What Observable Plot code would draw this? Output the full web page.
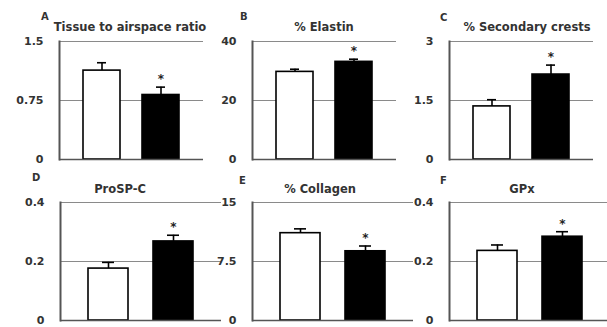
<!DOCTYPE html>
<html>
<head>
<meta charset="utf-8">
<script src="https://cdn.jsdelivr.net/npm/d3@7"></script>
<script src="https://cdn.jsdelivr.net/npm/@observablehq/plot@0.6"></script>
<style>
  html, body { margin: 0; padding: 0; background: #fff; }
  #wrap { position: relative; width: 607px; height: 327px; overflow: hidden; background: #fff; font-family: "DejaVu Sans", sans-serif; }
  .panel { position: absolute; }
  .lbl { position: absolute; font-weight: bold; color: #333; white-space: nowrap; line-height: 1; }
  .letter { font-size: 10px; }
  .title { font-size: 11.5px; transform: translateX(-50%); }
</style>
</head>
<body>
<div id="wrap"></div>
<script>
// ---- data ----
const groups = ["Control", "Treated"];
const panelLetters = ["A", "B", "C", "D", "E", "F"];
const panelTitles = ["Tissue to airspace ratio", "% Elastin", "% Secondary crests", "ProSP-C", "% Collagen", "GPx"];
const means = [
  [1.13, 0.82],
  [29.7, 33.1],
  [1.35, 2.16],
  [0.176, 0.268],
  [11.1, 8.8],
  [0.236, 0.284]
];
const errors = [
  [0.10, 0.10],
  [0.9, 0.9],
  [0.17, 0.24],
  [0.021, 0.021],
  [0.55, 0.67],
  [0.02, 0.017]
];
const significant = [
  [false, true],
  [false, true],
  [false, true],
  [false, true],
  [false, true],
  [false, true]
];
const yMax = [1.5, 40, 3, 0.4, 15, 0.4];
const yTicks = [
  [0, 0.75, 1.5],
  [0, 20, 40],
  [0, 1.5, 3],
  [0, 0.2, 0.4],
  [0, 7.5, 15],
  [0, 0.2, 0.4]
];

// ---- layout ----
const layout = [
  {left: 0,   top: 0,   ml: 59, W: 144, letter: [41, 12], title: [130, 22]},
  {left: 200, top: 0,   ml: 52, W: 144, letter: [240, 12], title: [324, 22]},
  {left: 400, top: 0,   ml: 49, W: 144, letter: [440, 13], title: [527, 22]},
  {left: 0,   top: 160, ml: 60, W: 161, letter: [32, 173], title: [120, 184]},
  {left: 200, top: 160, ml: 52, W: 161, letter: [239, 176], title: [320, 184]},
  {left: 400, top: 160, ml: 49, W: 161, letter: [440, 176], title: [522, 184]}
];

const wrap = document.getElementById("wrap");

layout.forEach((L, i) => {
  const rows = groups.map((g, j) => ({
    group: g,
    value: means[i][j],
    err: errors[i][j],
    top: means[i][j] + errors[i][j],
    sig: significant[i][j]
  }));
  const top = L.top === 0;
  const mt = top ? 41 : 42;
  const mb = 6;
  const height = mt + 118 + mb;
  const width = L.ml + L.W + 2;
  const chart = Plot.plot({
    width, height,
    marginLeft: L.ml, marginRight: 2, marginTop: mt, marginBottom: mb,
    style: {background: "transparent", overflow: "visible", fontFamily: "DejaVu Sans, sans-serif"},
    x: {domain: groups, paddingInner: 0.38, paddingOuter: 0.41, axis: null},
    y: {domain: [0, yMax[i]], axis: null},
    marks: [
      Plot.gridY(yTicks[i], {stroke: "#8a8a8a", strokeOpacity: 1, strokeWidth: 1}),
      Plot.axisY({ticks: yTicks[i], tickSize: 0, tickPadding: 16, tickFormat: d => String(d), fontSize: 11, fontWeight: "bold", fill: "#333"}),
      Plot.barY(rows, {x: "group", y: "value", fill: d => d.group === "Control" ? "white" : "black", stroke: "black", strokeWidth: 1.6}),
      Plot.ruleX(rows, {x: "group", y1: "value", y2: "top", stroke: "black", strokeWidth: 1.6}),
      Plot.tickY(rows, {x: "group", y: "top", stroke: "black", strokeWidth: 1.6, insetLeft: 14, insetRight: 14}),
      Plot.text(rows.filter(d => d.sig), {x: "group", y: "top", text: () => "*", dy: -8, fontSize: 12, fontWeight: "bold", fill: "#222"}),
      Plot.ruleY([0], {stroke: "#555", strokeWidth: 1.6}),
      Plot.frame({anchor: "left", stroke: "#555", strokeWidth: 2})
    ]
  });
  chart.classList.add("panel");
  chart.style.left = L.left + "px";
  chart.style.top = L.top + "px";
  wrap.appendChild(chart);

  const lt = document.createElement("div");
  lt.className = "lbl letter";
  lt.textContent = panelLetters[i];
  lt.style.left = L.letter[0] + "px";
  lt.style.top = L.letter[1] + "px";
  wrap.appendChild(lt);

  const tt = document.createElement("div");
  tt.className = "lbl title";
  tt.textContent = panelTitles[i];
  tt.style.left = L.title[0] + "px";
  tt.style.top = L.title[1] + "px";
  wrap.appendChild(tt);
});
</script>
</body>
</html>
